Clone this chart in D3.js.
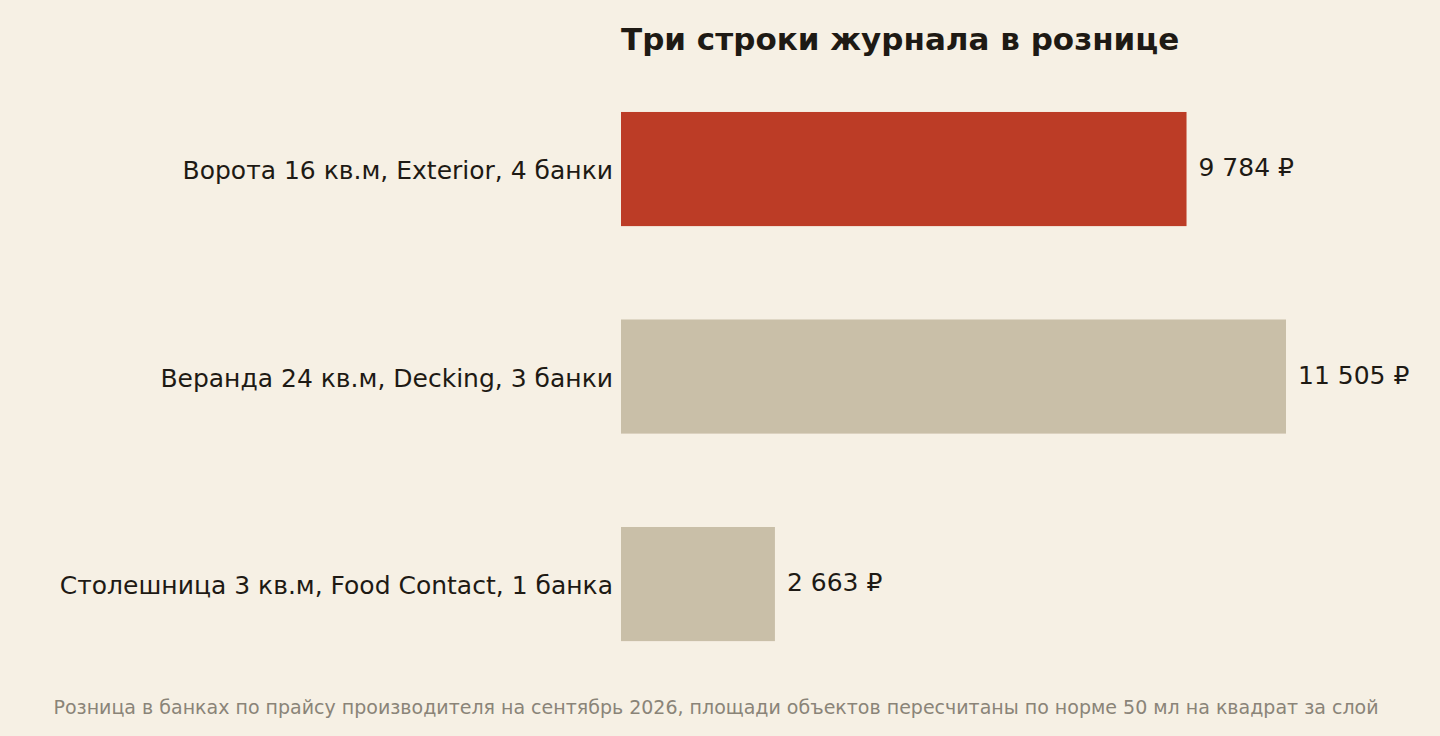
<!DOCTYPE html>
<html><head><meta charset="utf-8">
<script src="https://cdn.jsdelivr.net/npm/d3@7"></script>
<style>body{margin:0;background:#f6f0e4}svg{display:block}</style>
</head><body>
<svg width="1440" height="736"></svg>
<script>
const categories = ["Ворота 16 кв.м, Exterior, 4 банки", "Веранда 24 кв.м, Decking, 3 банки", "Столешница 3 кв.м, Food Contact, 1 банка"];
const values = [9784, 11505, 2663];
const highlight = [true, false, false];

const svg = d3.select("svg");
const font = "'DejaVu Sans', sans-serif";
svg.append("rect").attr("width", 1440).attr("height", 736).attr("fill", "#f6f0e4");

const x = d3.scaleLinear().domain([0, 11505]).range([621, 1286]);
const y = d3.scaleBand().domain(categories).range([18.6, 734.5]).padding(0.45);
const fmt = v => d3.format(",")(v).replace(/,/g, " ") + " ₽";

svg.append("text").attr("x", 621).attr("y", 50)
  .style("font", `bold 31px ${font}`).attr("fill", "#1e1a14")
  .text("Три строки журнала в рознице");

const g = svg.selectAll(".row").data(categories).enter().append("g");
g.append("rect")
  .attr("x", x(0)).attr("y", d => y(d))
  .attr("width", (d, i) => x(values[i]) - x(0))
  .attr("height", y.bandwidth())
  .attr("fill", (d, i) => highlight[i] ? "#bc3c26" : "#c9bfa8");
g.append("text")
  .attr("x", 613).attr("y", d => y(d) + y.bandwidth() / 2 + 3)
  .attr("dominant-baseline", "middle").attr("text-anchor", "end")
  .style("font", `25px ${font}`).attr("fill", "#1e1a14")
  .text(d => d);
g.append("text")
  .attr("x", (d, i) => x(values[i]) + 12).attr("y", d => y(d) + y.bandwidth() / 2)
  .attr("dominant-baseline", "middle")
  .style("font", `25px ${font}`).attr("fill", "#1e1a14")
  .text((d, i) => fmt(values[i]));

svg.append("text").attr("x", 716).attr("y", 714).attr("text-anchor", "middle")
  .style("font", `19px ${font}`).attr("fill", "#8a8478")
  .text("Розница в банках по прайсу производителя на сентябрь 2026, площади объектов пересчитаны по норме 50 мл на квадрат за слой");
</script>
</body></html>
